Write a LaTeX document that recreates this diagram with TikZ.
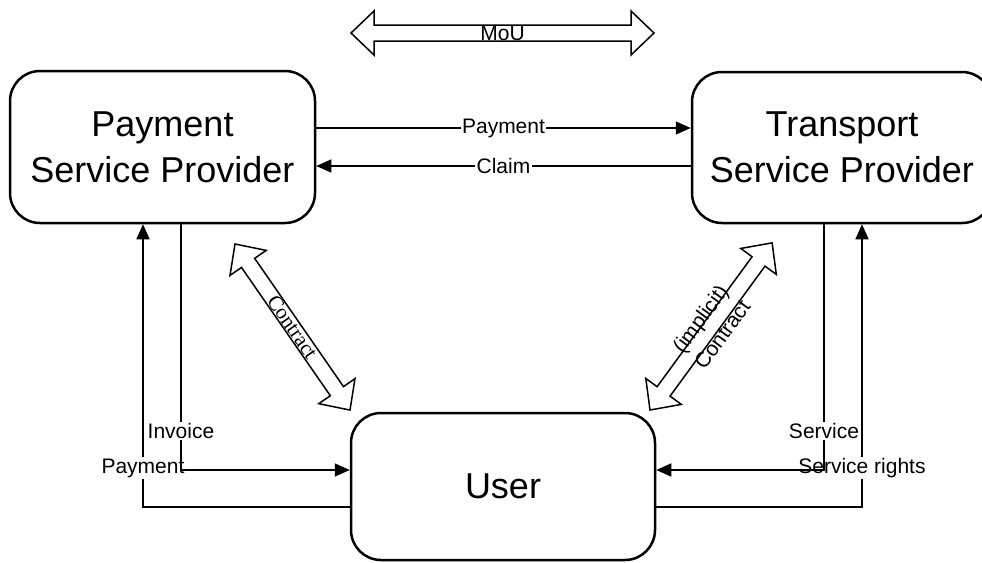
\documentclass[tikz,border=0pt]{standalone}
\usepackage{fontspec}
\setmainfont{Liberation Sans}
\newfontfamily\serifface{Liberation Serif}
\usetikzlibrary{arrows.meta,calc}

% outline of a hollow double-headed block arrow of the given length along the x axis
\newcommand{\blockpath}[1]{(0,0) -- (23,-22) -- (23,-8) -- (#1-23,-8) -- (#1-23,-22) -- (#1,0) -- (#1-23,22) -- (#1-23,8) -- (23,8) -- (23,22) -- cycle}

\begin{document}
\begin{tikzpicture}[x=1pt,y=-1pt,
  party/.style={draw, line width=2.5pt, rounded corners=30pt, align=center,
    font=\fontsize{36}{46}\selectfont, inner sep=0pt},
  flow/.style={line width=1.6pt, -{Triangle[length=15pt,width=13pt]}},
  lbl/.style={fill=white, inner sep=1.5pt, font=\fontsize{21}{25}\selectfont},
  hollow/.style={draw, line width=1.5pt, fill=white, line join=miter},
  blocklbl/.style={font=\fontsize{21}{27}\selectfont, align=center, inner sep=0pt}
]
\useasboundingbox (0,0) rectangle (982,562);
\clip (0,0) rectangle (982,562);

% the three parties
\node[party, minimum width=305pt, minimum height=152pt] (psp) at (162.5,147) {Payment\\Service Provider};
\node[party, minimum width=300pt, minimum height=151pt] (tsp) at (842,147.5) {Transport\\Service Provider};
\node[party, minimum width=304pt, minimum height=147pt] (user) at (503,486.5) {User};

% reference levels for the orthogonal connectors
\coordinate (yPay) at (0,128);
\coordinate (yClaim) at (0,166);
\coordinate (yLabA) at (0,431);
\coordinate (yLabB) at (0,468);
\coordinate (yInv) at (0,470);
\coordinate (yBack) at (0,507);
\coordinate (xPayL) at (143,0);
\coordinate (xInv) at (181,0);
\coordinate (xSrv) at (824,0);
\coordinate (xRights) at (862,0);

% payment provider <-> transport provider
\draw[flow] (psp.east |- yPay) -- node[lbl]{Payment} (tsp.west |- yPay);
\draw[flow] (tsp.west |- yClaim) -- node[lbl]{Claim} (psp.east |- yClaim);

% user <-> payment provider
\draw[flow] (user.west |- yBack) -- (xPayL |- yBack) -- (xPayL |- psp.south);
\node[lbl] at (xPayL |- yLabB) {Payment};
\draw[flow] (xInv |- psp.south) -- (xInv |- yInv) -- (user.west |- yInv);
\node[lbl] at (xInv |- yLabA) {Invoice};

% user <-> transport provider
\draw[flow] (user.east |- yBack) -- (xRights |- yBack) -- (xRights |- tsp.south);
\node[lbl] at (xRights |- yLabB) {Service rights};
\draw[flow] (xSrv |- tsp.south) -- (xSrv |- yInv) -- (user.east |- yInv);
\node[lbl] at (xSrv |- yLabA) {Service};

% block arrows for the agreements
\coordinate (mouL) at (351,33);
\coordinate (mouR) at (654,33);
\begin{scope}[shift={(mouL)}]
  \draw[hollow] \blockpath{303};
\end{scope}
\node[blocklbl] at ($(mouL)!0.5!(mouR)$) {MoU};

\coordinate (cA) at (235,244);
\coordinate (cB) at (350,410);
\begin{scope}[shift={(cA)}, rotate=-55.3]
  \draw[hollow] \blockpath{202};
\end{scope}
\node[blocklbl, font=\serifface\fontsize{21}{27}\selectfont, rotate=-55.3] at ($(cA)!0.5!(cB)$) {Contract};

\coordinate (cC) at (650,410);
\coordinate (cD) at (772,243);
\begin{scope}[shift={(cC)}, rotate=53.85]
  \draw[hollow] \blockpath{207};
\end{scope}
\node[blocklbl, rotate=53.85] at ($(cC)!0.5!(cD)$) {(implicit)\\Contract};
\end{tikzpicture}
\end{document}
